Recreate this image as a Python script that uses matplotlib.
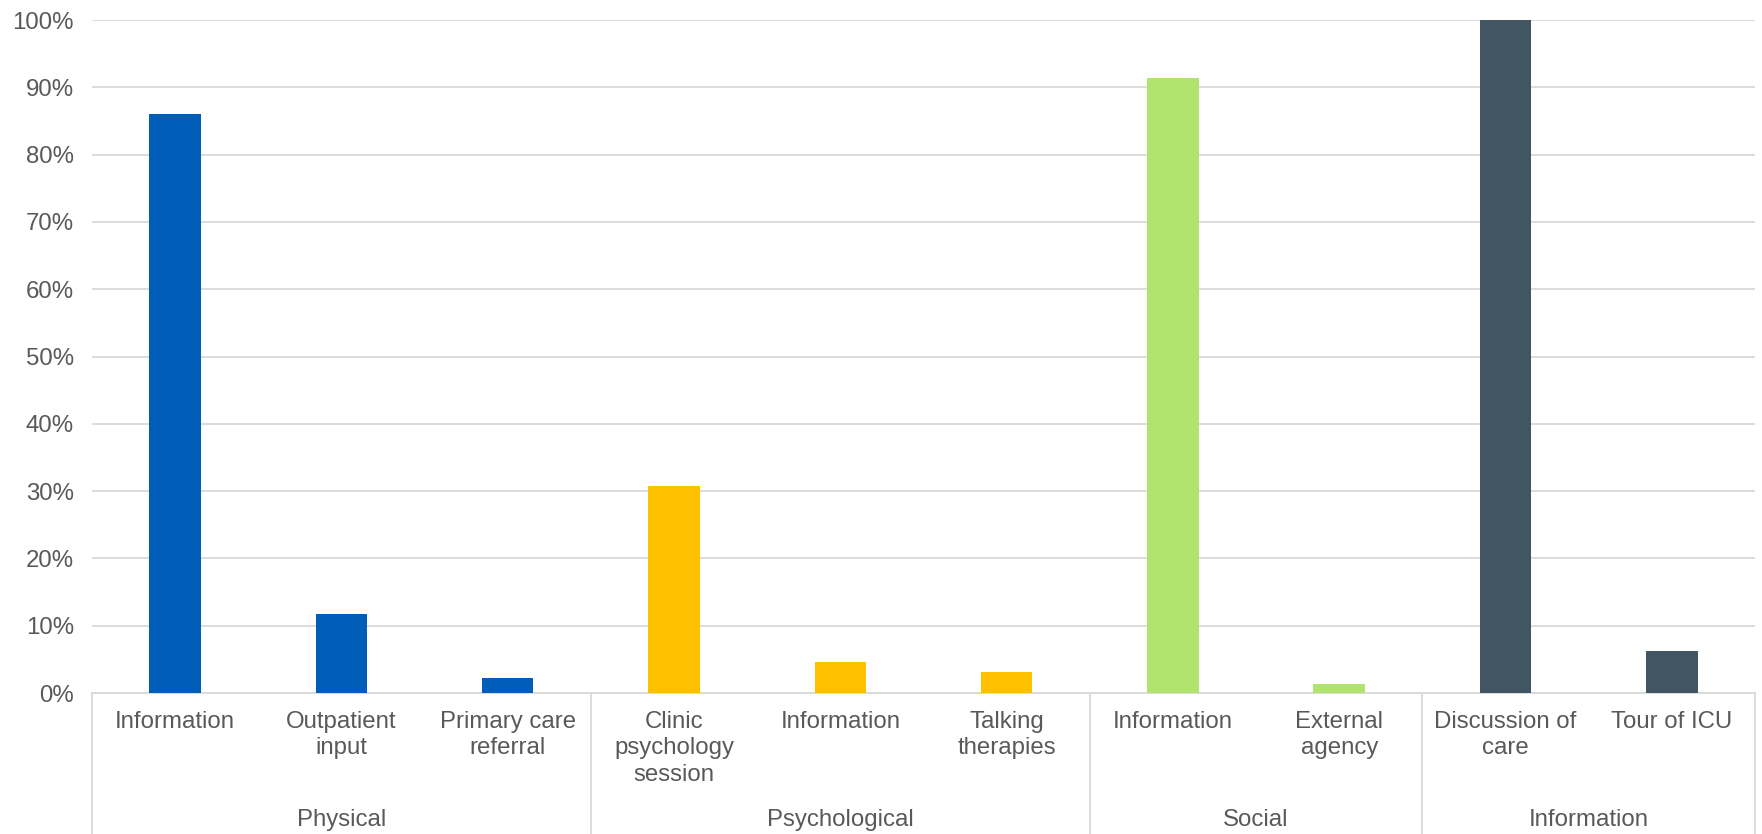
import matplotlib
matplotlib.use("Agg")
import matplotlib.pyplot as plt
import matplotlib.transforms as mtransforms
from matplotlib.ticker import PercentFormatter

plt.rcParams['font.family'] = ['Liberation Sans', 'DejaVu Sans']

groups = ['Physical', 'Psychological', 'Social', 'Information']
group_sizes = [3, 3, 2, 2]
group_colors = ['#005EB8', '#FFC000', '#B0E46E', '#425563']
categories = ['Information', 'Outpatient\ninput', 'Primary care\nreferral',
              'Clinic\npsychology\nsession', 'Information', 'Talking\ntherapies',
              'Information', 'External\nagency',
              'Discussion of\ncare', 'Tour of ICU']
values = [86.0, 11.7, 2.3, 30.8, 4.6, 3.1, 91.4, 1.4, 100.0, 6.2]

text_color = '#595959'
line_color = '#D9D9D9'
fs = 17.3

fig = plt.figure(figsize=(17.62, 8.34), dpi=100)
ax = fig.add_axes([0.0522, 0.169, 0.9438, 0.807])

colors = []
for c, n in zip(group_colors, group_sizes):
    colors += [c] * n

x = list(range(len(categories)))
ax.bar(x, values, width=0.31, color=colors, zorder=3)

ax.set_xlim(-0.5, len(categories) - 0.5)
ax.set_ylim(0, 100)
ax.set_yticks(range(0, 101, 10))
ax.yaxis.set_major_formatter(PercentFormatter(decimals=0))
ax.grid(axis='y', color=line_color, linewidth=1.3, zorder=0)

for s in ['top', 'right', 'left']:
    ax.spines[s].set_visible(False)
ax.spines['bottom'].set_color(line_color)
ax.spines['bottom'].set_linewidth(1.3)

ax.set_xticks(x)
ax.set_xticklabels(categories, linespacing=1.25)
ax.tick_params(axis='x', length=0, pad=13, labelsize=fs, labelcolor=text_color)
ax.tick_params(axis='y', length=0, pad=13, labelsize=fs, labelcolor=text_color)

# group separators and group names below the category labels
trans = mtransforms.blended_transform_factory(ax.transData, ax.transAxes)
bottom = -0.2095
edges = [-0.5]
for n in group_sizes:
    edges.append(edges[-1] + n)
for e in edges:
    ax.plot([e, e], [0, bottom], transform=trans, color=line_color,
            linewidth=1.3, clip_on=False)
for g, lo, hi in zip(groups, edges[:-1], edges[1:]):
    ax.text((lo + hi) / 2, -0.189, g, transform=trans, ha='center', va='center',
            fontsize=fs, color=text_color)

fig.savefig('out.png', dpi=100)
